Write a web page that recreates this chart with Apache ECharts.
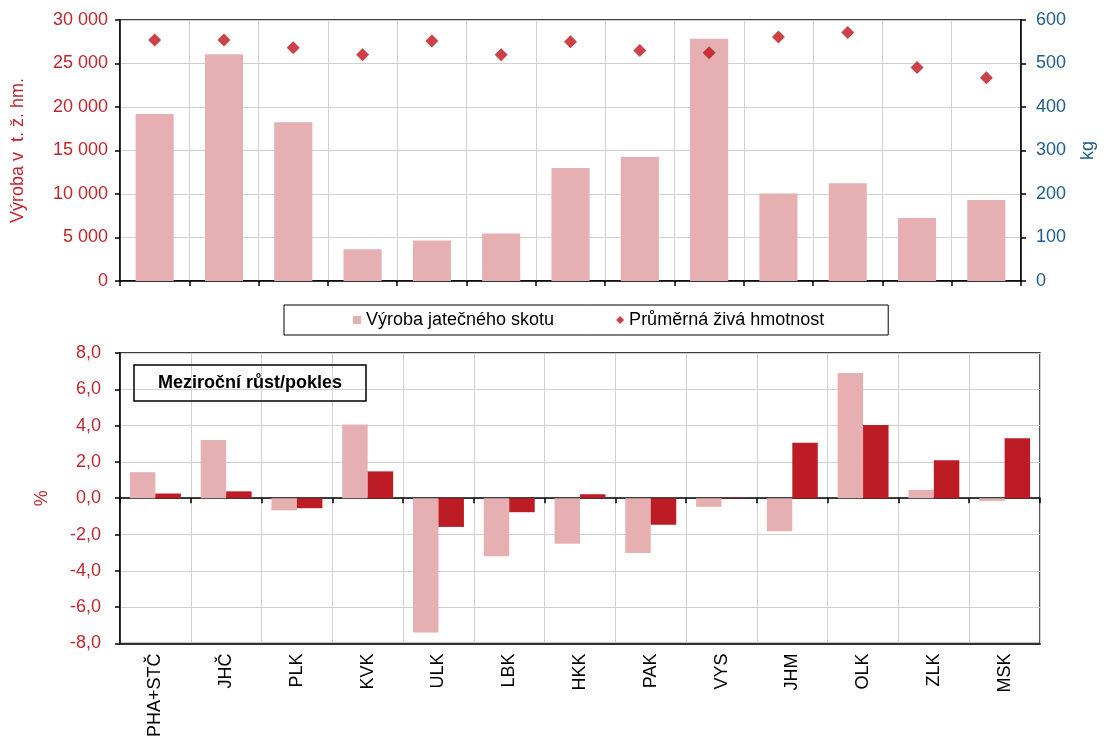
<!DOCTYPE html>
<html><head><meta charset="utf-8">
<script src="https://cdn.jsdelivr.net/npm/echarts@6/dist/echarts.min.js"></script>
<style>html,body{margin:0;padding:0;background:#fff}#c{width:1105px;height:740px}</style>
</head><body><div id="c"></div>
<script>
const categories = ['PHA+STČ','JHČ','PLK','KVK','ULK','LBK','HKK','PAK','VYS','JHM','OLK','ZLK','MSK'];
const production = [19200,26050,18250,3650,4650,5450,13000,14250,27850,10050,11250,7250,9300];
const liveWeight = [554,554,536,520,552,520,550,530,525,561,571,491,467];
const productionChange = [1.44,3.21,-0.67,4.06,-7.40,-3.19,-2.51,-3.02,-0.47,-1.82,6.90,0.46,-0.15];
const weightChange = [0.26,0.38,-0.55,1.48,-1.58,-0.77,0.22,-1.46,0.03,3.06,4.03,2.09,3.30];
const seriesNames = ['Výroba jatečného skotu','Průměrná živá hmotnost'];

const FONT = 'Liberation Sans, Arial, sans-serif';
const RED = '#C0272D', BLUE = '#1F5C8F', LIGHT = '#E6B0B3', DARK = '#BE1C24', DIAMOND = '#C0121C';
const GRID = '#D0D0D0';
const FS = 18;
const thousands = v => String(v).replace(/\B(?=(\d{3})+(?!\d))/g, ' ');
const comma1 = v => v.toFixed(1).replace('.', ',');

const chart = echarts.init(document.getElementById('c'), null, {renderer: 'canvas'});
chart.setOption({
  animation: false,
  textStyle: {fontFamily: FONT},
  title: {
    text: 'Meziroční růst/pokles', left: 134, top: 365,
    borderColor: '#000', borderWidth: 1.5, padding: [9, 24, 9, 24],
    textStyle: {fontFamily: FONT, fontWeight: 'bold', fontSize: 18, color: '#000'}
  },
  legend: {
    data: [{name: seriesNames[0], icon: 'rect'}, {name: seriesNames[1], icon: 'diamond'}],
    left: 284, top: 305, padding: [6, 64, 6, 69], itemGap: 62,
    itemWidth: 8, itemHeight: 8, borderColor: '#000', borderWidth: 1,
    textStyle: {fontFamily: FONT, fontSize: FS, color: '#000'}
  },
  grid: [
    {left: 120, right: 74, top: 20, height: 261, show: true, borderColor: '#000', borderWidth: 1.3, containLabel: false},
    {left: 120, right: 65, top: 353, height: 294, show: true, borderColor: '#000', borderWidth: 1.3, containLabel: false}
  ],
  xAxis: [
    {type: 'category', gridIndex: 0, data: categories,
     axisLine: {lineStyle: {color: '#000', width: 1.5}},
     axisTick: {show: true, interval: 0, length: 5, lineStyle: {color: '#000', width: 1.5}},
     axisLabel: {show: false, interval: 0},
     splitLine: {show: true, interval: 0, lineStyle: {color: GRID, width: 1}}},
    {type: 'category', gridIndex: 1, data: categories, position: 'bottom',
     axisLine: {onZero: true, lineStyle: {color: '#000', width: 1.5}},
     axisTick: {show: true, interval: 0, length: 5, lineStyle: {color: '#000', width: 1.5}},
     axisLabel: {show: false, interval: 0},
     splitLine: {show: true, interval: 0, lineStyle: {color: GRID, width: 1}}},
    {type: 'category', gridIndex: 1, data: categories, position: 'bottom',
     axisLine: {onZero: false, lineStyle: {color: '#000', width: 1.5}},
     axisTick: {show: false},
     axisLabel: {show: true, interval: 0, rotate: 90, margin: 10, fontSize: FS, color: '#000', fontFamily: FONT},
     splitLine: {show: false}}
  ],
  yAxis: [
    {type: 'value', gridIndex: 0, min: 0, max: 30000, interval: 5000, position: 'left',
     name: 'Výroba v  t. ž. hm.', nameLocation: 'middle', nameGap: 93, nameRotate: 90,
     nameTextStyle: {color: RED, fontSize: FS, fontFamily: FONT},
     axisLine: {show: true, lineStyle: {color: '#000', width: 1.5}},
     axisTick: {show: true, length: 5, lineStyle: {color: '#000', width: 1.5}},
     axisLabel: {color: RED, fontSize: FS, margin: 12, formatter: thousands, fontFamily: FONT},
     splitLine: {show: true, lineStyle: {color: GRID, width: 1.2}}},
    {type: 'value', gridIndex: 0, min: 0, max: 600, interval: 100, position: 'right',
     name: 'kg', nameLocation: 'middle', nameGap: 58, nameRotate: 90,
     nameTextStyle: {color: BLUE, fontSize: FS, fontFamily: FONT},
     axisLine: {show: true, lineStyle: {color: '#000', width: 1.5}},
     axisTick: {show: true, length: 5, lineStyle: {color: '#000', width: 1.5}},
     axisLabel: {color: BLUE, fontSize: FS, margin: 15, fontFamily: FONT},
     splitLine: {show: false}},
    {type: 'value', gridIndex: 1, min: -8, max: 8, interval: 2,
     name: '%', nameLocation: 'middle', nameGap: 69, nameRotate: 90,
     nameTextStyle: {color: RED, fontSize: FS, fontFamily: FONT},
     axisLine: {show: true, lineStyle: {color: '#000', width: 1.5}},
     axisTick: {show: true, length: 5, lineStyle: {color: '#000', width: 1.5}},
     axisLabel: {color: RED, fontSize: FS, margin: 19, formatter: comma1, fontFamily: FONT},
     splitLine: {show: true, lineStyle: {color: GRID, width: 1.2}}}
  ],
  series: [
    {name: seriesNames[0], type: 'bar', xAxisIndex: 0, yAxisIndex: 0, data: production,
     barWidth: '55%', itemStyle: {color: LIGHT}},
    {name: seriesNames[1], type: 'scatter', xAxisIndex: 0, yAxisIndex: 1, data: liveWeight,
     symbol: 'diamond', symbolSize: 13, itemStyle: {color: DIAMOND}},
    {name: 'Změna výroby', type: 'bar', xAxisIndex: 1, yAxisIndex: 2, data: productionChange,
     barGap: '0%', barCategoryGap: '28%', itemStyle: {color: LIGHT}},
    {name: 'Změna hmotnosti', type: 'bar', xAxisIndex: 1, yAxisIndex: 2, data: weightChange,
     barGap: '0%', barCategoryGap: '28%', itemStyle: {color: DARK}}
  ]
});
</script>
</body></html>
